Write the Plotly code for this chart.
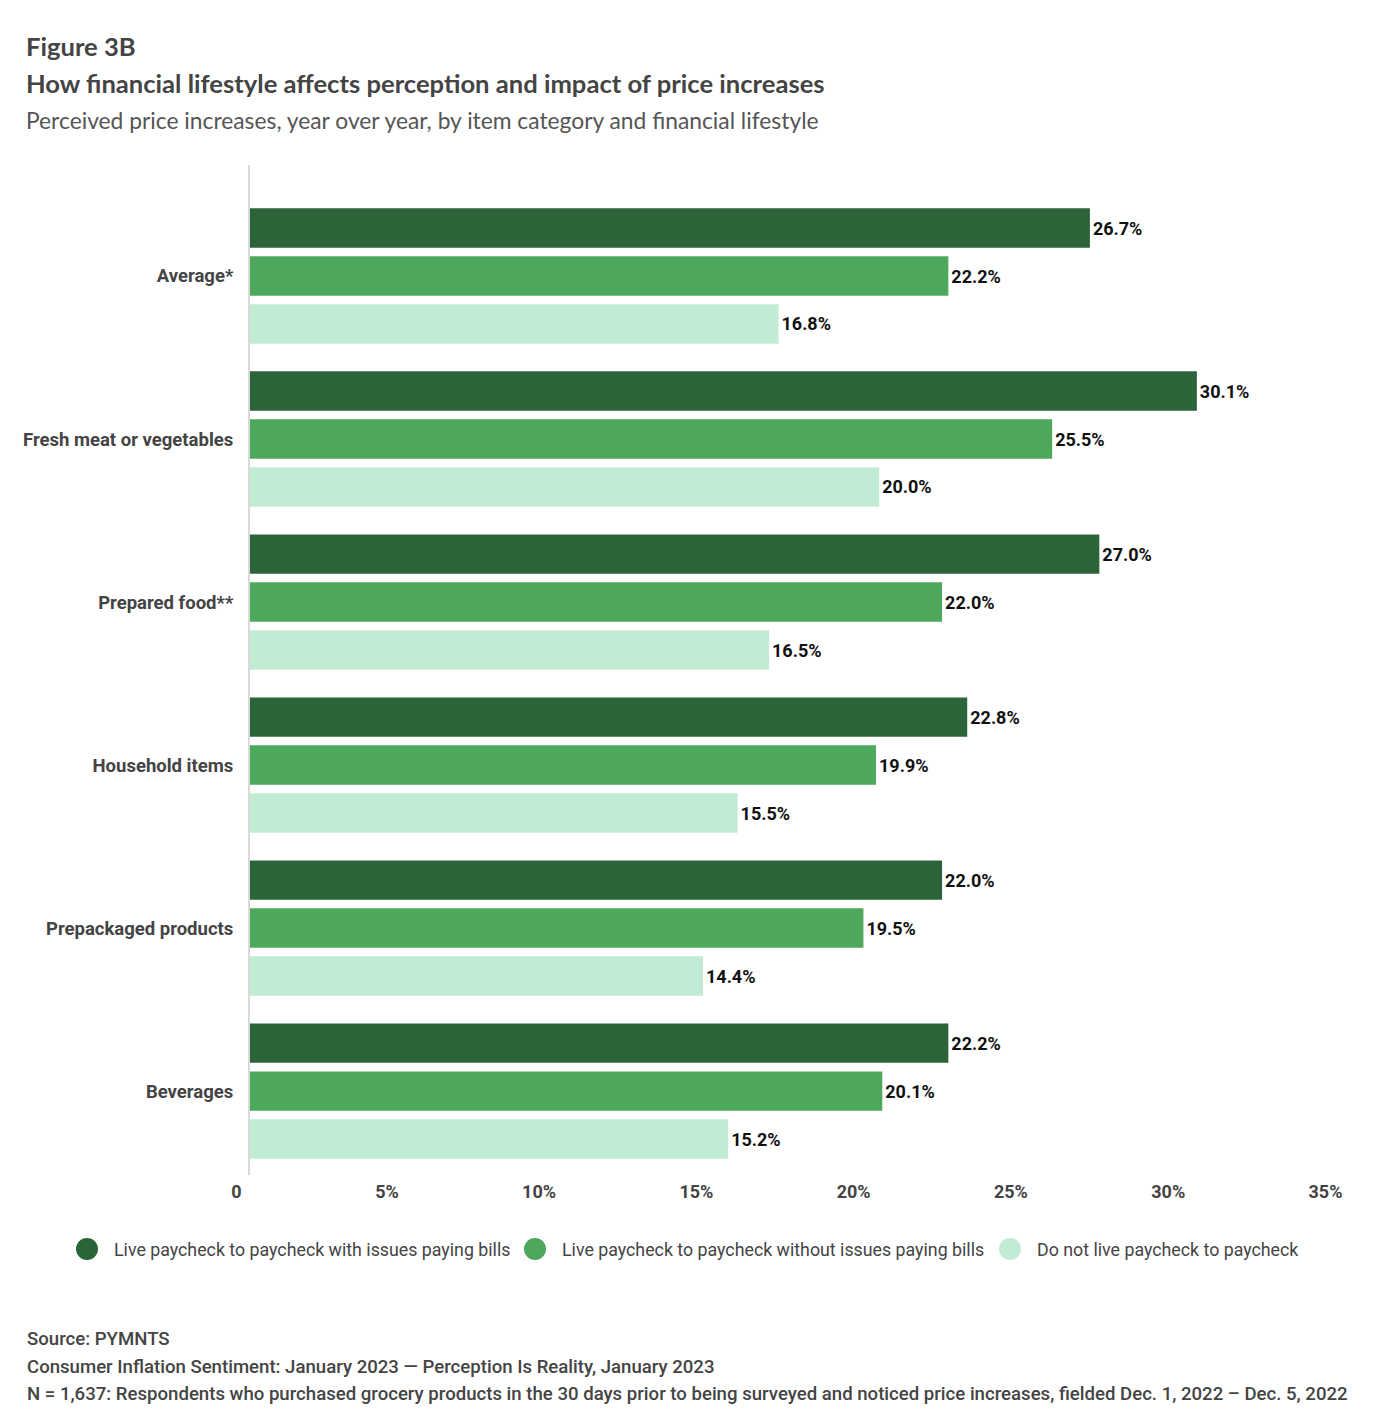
import plotly.graph_objects as go

categories = ["Average*", "Fresh meat or vegetables", "Prepared food**", "Household items",
              "Prepackaged products", "Beverages"]
series_names = ["Live paycheck to paycheck with issues paying bills",
                "Live paycheck to paycheck without issues paying bills",
                "Do not live paycheck to paycheck"]
with_issues = [26.7, 30.1, 27.0, 22.8, 22.0, 22.2]
without_issues = [22.2, 25.5, 22.0, 19.9, 19.5, 20.1]
not_p2p = [16.8, 20.0, 16.5, 15.5, 14.4, 15.2]
tick_vals = [0, 5, 10, 15, 20, 25, 30, 35]
tick_text = ["0", "5%", "10%", "15%", "20%", "25%", "30%", "35%"]

colors = ["#2A6438", "#4DA85C", "#C2EBD3"]
values = [with_issues, without_issues, not_p2p]

# page offset (body margin) compensation
OFF = 8
W, H = 1374 - 2 * OFF, 1424 - 2 * OFF
L, R, T, B = 250 - OFF, 1351 - OFF, 165 - OFF, 1175 - OFF
PW, PH = R - L, B - T


def px_x(x):
    return (x - OFF - L) / PW


def px_y(y):
    return 1 - (y - OFF - T) / PH


fig = go.Figure()
for name, vals, col in zip(series_names, values, colors):
    fig.add_trace(go.Bar(
        y=categories, x=vals, orientation="h", name=name,
        marker=dict(color=col, line=dict(width=0)),
        text=[f"{v:.1f}%" for v in vals], textposition="outside",
        textfont=dict(family="Roboto", size=18, color="#111111", weight="bold"),
        cliponaxis=False, showlegend=False,
    ))

fig.update_layout(
    width=W, height=H,
    paper_bgcolor="white", plot_bgcolor="white",
    margin=dict(l=L, r=W - R, t=T, b=H - B, autoexpand=False),
    barmode="group", bargap=0.117, bargroupgap=0.18,
    font=dict(family="Roboto", size=18, color="#444444"),
    showlegend=False,
    xaxis=dict(range=[0, 35], tickvals=tick_vals, ticktext=tick_text,
               showgrid=False, zeroline=False, showline=False,
               ticks="outside", ticklen=4, tickcolor="rgba(0,0,0,0)",
               ticklabelposition="outside left", ticklabelshift=-8,
               tickfont=dict(family="Roboto", size=18, color="#444444", weight="bold")),
    yaxis=dict(type="category", categoryorder="array", categoryarray=categories,
               range=[5.515, -0.681], showgrid=False, zeroline=False,
               showline=True, linecolor="#d9d9d9", linewidth=2,
               ticks="outside", ticklen=11, tickcolor="rgba(0,0,0,0)",
               tickfont=dict(family="Roboto", size=18.5, color="#444444", weight="bold")),
)

# legend drawn manually with circles
legend_circle_x = [87, 535, 1010]
legend_y = 1249
for name, col, cx in zip(series_names, colors, legend_circle_x):
    r = 11
    fig.add_shape(type="circle", xref="paper", yref="paper",
                  x0=px_x(cx - r), x1=px_x(cx + r), y0=px_y(legend_y + r), y1=px_y(legend_y - r),
                  fillcolor=col, line=dict(width=0))
    fig.add_annotation(text=name, xref="paper", yref="paper",
                       x=px_x(cx + 25), y=px_y(legend_y), xanchor="left", yanchor="middle",
                       showarrow=False, font=dict(family="Roboto", size=17.8, color="#444444"))

ann = [
    dict(text="<b>Figure 3B</b>", x=24, y=46, size=25.6, color="#444444", family="Lato", weight="normal"),
    dict(text="<b>How financial lifestyle affects perception and impact of price increases</b>", x=24, y=83, size=25.6, color="#444444", family="Lato", weight="normal"),
    dict(text="Perceived price increases, year over year, by item category and financial lifestyle", x=24, y=120, size=22.8, color="#555555", family="Lato", weight="normal"),
    dict(text="Source: PYMNTS", x=25, y=1339, size=18.6, color="#444444", family="Roboto", weight=500),
    dict(text="Consumer Inflation Sentiment: January 2023 \u2014 Perception Is Reality, January 2023", x=25, y=1367, size=18.6, color="#444444", family="Roboto", weight=500),
    dict(text="N = 1,637: Respondents who purchased grocery products in the 30 days prior to being surveyed and noticed price increases, fielded Dec. 1, 2022 \u2013 Dec. 5, 2022", x=25, y=1394, size=18.6, color="#444444", family="Roboto", weight=500),
]
for a in ann:
    fig.add_annotation(
        text=a["text"], xref="paper", yref="paper",
        x=px_x(a["x"]), y=px_y(a["y"]),
        xanchor="left", yanchor="middle", showarrow=False, align="left",
        font=dict(family=a["family"], size=a["size"], color=a["color"], weight=a["weight"]),
    )

fig.write_html("out.html")
